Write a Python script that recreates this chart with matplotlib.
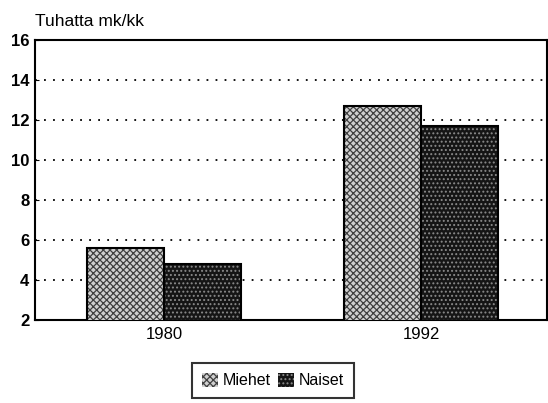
import matplotlib.pyplot as plt
import numpy as np
from matplotlib.patches import Patch

plt.rcParams['font.family'] = ['Liberation Sans', 'DejaVu Sans']
plt.rcParams['hatch.linewidth'] = 0.9

years = ['1980', '1992']
miehet = [5.6, 12.7]
naiset = [4.8, 11.7]

fig = plt.figure(figsize=(5.48, 4.03), dpi=100)
ax = fig.add_axes([35 / 548, 83 / 403, 512 / 548, 280 / 403])

x = np.arange(len(years))
w = 0.3

# kuvioidut palkit: ensin kuvio, sitten musta reunaviiva päälle
ax.bar(x - w / 2, miehet, w, bottom=0, color='#d0d0d0', edgecolor='#404040',
       hatch='xxxxx', linewidth=0, zorder=3)
ax.bar(x + w / 2, naiset, w, bottom=0, color='#151515', edgecolor='#8a8a8a',
       hatch='....', linewidth=0, zorder=3)
ax.bar(x - w / 2, miehet, w, fill=False, edgecolor='black', linewidth=1.5, zorder=4)
ax.bar(x + w / 2, naiset, w, fill=False, edgecolor='black', linewidth=1.5, zorder=4)

ax.set_ylim(2, 16)
ax.set_xlim(-0.502, 1.49)
ax.set_yticks(range(2, 17, 2))
ax.set_xticks(x)
ax.set_xticklabels(years)
ax.tick_params(axis='x', length=0, labelsize=12, pad=5)
ax.tick_params(axis='y', length=3, direction='in', labelsize=12, pad=4)
for lbl in ax.get_yticklabels():
    lbl.set_fontweight('bold')

ax.yaxis.grid(True, color='black', linestyle=(0, (1, 4)), linewidth=1.3, zorder=1)
ax.set_axisbelow(True)
for s in ax.spines.values():
    s.set_linewidth(1.5)

fig.text(35 / 548, 1 - 21 / 403, 'Tuhatta mk/kk', fontsize=12.5, va='center', ha='left')

handles = [
    Patch(facecolor='#d0d0d0', edgecolor='#404040', hatch='xxxxx', linewidth=0),
    Patch(facecolor='#151515', edgecolor='#8a8a8a', hatch='....', linewidth=0),
]
leg = fig.legend(handles, ['Miehet', 'Naiset'], loc='upper center',
                 bbox_to_anchor=(273 / 548, 1 - 363 / 403), ncol=2,
                 frameon=True, fancybox=False, edgecolor='black',
                 fontsize=11.5, handlelength=1.0, handleheight=1.0,
                 handletextpad=0.3, columnspacing=0.5, borderpad=0.6,
                 borderaxespad=0)
leg.get_frame().set_linewidth(1.5)

fig.savefig('out.png', dpi=100)
